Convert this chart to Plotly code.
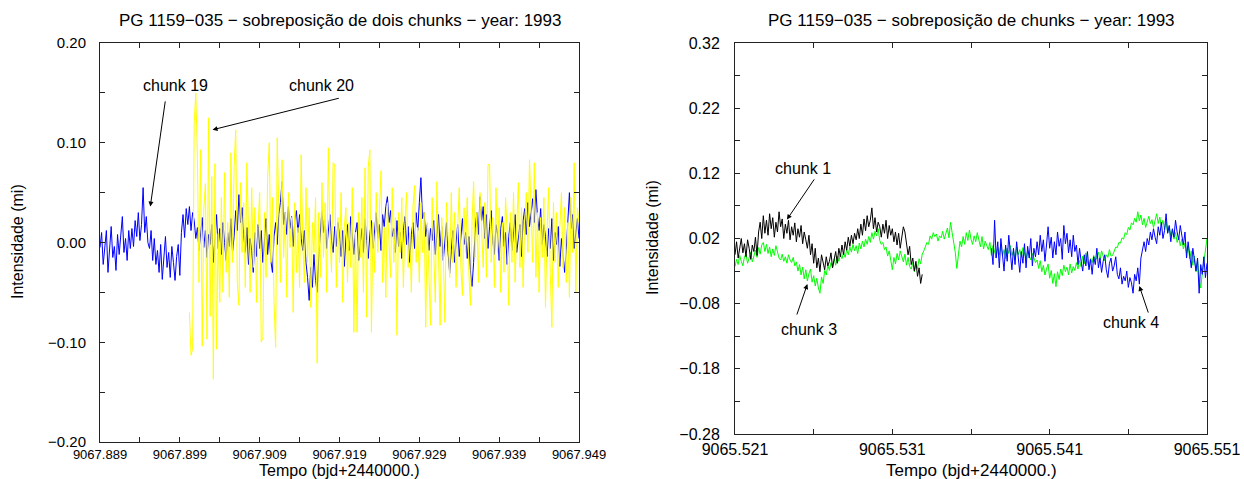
import plotly.graph_objects as go

# ---------------- data ----------------
# intensities are given in units of 0.001 mi (milli-mi), sampled at a fixed cadence
FONT = "Liberation Sans, Arial, Helvetica, sans-serif"

# Left panel (PG 1159-035, 1993) - chunk 19 and chunk 20
left_cadence = 0.0002
chunk19_t0 = 9067.889
chunk20_t0 = 9067.9002
chunk19_mmi = [
    -5, 10, -22, -8, 12, -30, -2, 16, -15, -4, -28, 8,
    -12, 6, 26, -10, 4, -18, 12, -6,
    14, -4, 22, 6, 30, 2, 18, 55, 10, 26, 0,
    -6, 12, -18, 4, -22, -8, -30, -2, -37, -12, 6, -25, -10, -35, -4, -20, -38, -14, -2, -33,
    10, 28, 5, 34, 18, 36, 12, 30,
    22, 4, 15, -8, 10, 25, -5, 12, -15, 8,
    -2, 18, -20, 5, 28, -6, 14, -12, 20, 0,
    -18, 10, -4, 24, -10, 6, 32, 12, 48, 20,
    35, 8, -10, 15, -22, 4, -8, -30, 10, -14,
    18, -6, 12, -20, 2, 24, -12, 8, -18, -30,
    6, 20, -2, 28, 40, 61, 18, 30, 8, 36,
    14, 26, -4, 22, 32, 10, 28, 4, -8, 12,
    -20, -35, -58, -25, -45, -12, -38, -50, -15, 5,
    33, 10, 22, -6, 14, 28, 2, -10, 16, -4,
    20, 8, -14, 12, -24, 4, 18, -8, 26, 6,
    -12, 10, 20, -18, -2, 14, -10, 24, 2, -16,
    8, 22, -6, 12, 30, 4, 18, -8, 28, 16,
    36, 46, 20, 32, 6, 14, -10, 22, -4, 10,
    -16, 12, 26, -2, 16, -20, 8, 20, -6, 30,
    12, 40, 65, 24, 30, 6, 18, -8, 14, 2,
    22, -12, 10, 28, -4, 16, -18, 6, 20, -10,
    -31, -8, 12, -20, 4, 18, -14, 8, 24, -2,
    10, -16, 6, -28, -44, -20, 14, 30, 8, 46,
    22, 36, 4, 28, -6, 16, 32, 2, -12, 18,
    8, -18, 14, 26, -4, 10, -22, 6, 20, -8,
    12, 28, -10, 4, 18, -14, 22, 34, 8, 40,
    16, 30, 44, 20, 53, 26, 12, 34, -2, 18,
    6, -14, 14, -6, 24, -18, 10, -2, 16, -24,
    4, -12, -30, -8, 20, 50, 14, 28, -6, 12,
    24, 4,
]
chunk20_mmi = [
    -70, -113, -107, 120, 150, 86, -40, 93, -104, 33,
    59, -97, 125, -74, 66, -137, 79, -107, 9, -60,
    45, -50, 70, -30, 20, -55, 90, -20, 76, 113,
    -40, -63, 60, -10, 40, -45, 80, 5, -50, 55,
    -25, 35, -60, 15, 50, -100, -95, 30, -35, 65,
    100, -20, 45, -60, -105, 105, 10, -40, 83, -15,
    30, -55, 50, -5, 25, -70, 40, -30, 15, -45,
    88, 0, -40, 55, -20, 35, -65, 20, -10, 45,
    -121, 30, -35, 60, -15, 40, -50, 95, 10, -30,
    80, 78, -45, 25, -20, 50, -60, 15, 35, -40,
    20, -25, 55, -90, 10, -90, 30, -15, 45, -50,
    75, -75, 75, 93, -90, 20, -30, 50, -10, 35,
    72, -40, 15, -55, 40, 0, -35, 55, -20, 25,
    -93, 30, -10, 45, -45, 20, 50, -25, 10, -50,
    35, 57, -20, 15, -40, 40, -10, 30, -85, 20,
    -30, -83, 45, -15, -60, 61, -20, -83, 25, -10,
    -80, 40, 5, -35, 50, -20, 30, -45, 15, 55,
    -25, -53, 35, -10, 45, -30, -63, 20, 61, -15,
    30, -40, 50, 10, -25, 40, -35, 78, 78, -20,
    25, -45, 55, -10, 35, -50, 20, -30, 45, 10,
    -63, 30, -20, 50, -40, 15, 60, -25, 35, -45,
    20, 50, -10, 83, 40, -20, 80, -35, 30, -50,
    25, -15, 45, -65, 10, 55, -30, -85, 40, -20,
    30, -45, 15, 50, -25, 35, -40, 20, -55, 45,
    -10, 80, -50, 35, 20,
]

# Right panel - chunk 1, chunk 3 and chunk 4
right_cadence = 0.0001
chunk1_t0 = 9065.521
chunk3_t0 = 9065.521
chunk4_t0 = 9065.5373
chunk1_mmi = [
    -5, 15, -10, 8, 20, -2, 12, -8, 18, 5,
    -12, 10, 0, 22, -6, 30, 45, 20, 55, 28,
    48, 25, 58, 35, 52, 22, 45, 30, 61, 38,
    50, 20, 42, 28, 48, 18, 38, 25, 44, 15,
    35, 22, 40, 12, 30, 18, 5, 25, -5, 12,
    -18, 5, -25, -10, -31, -5, -20, -28, -8, -22,
    -15, -2, -25, -10, 0, -18, 5, -8, 10, -5,
    15, 2, 22, 8, 25, 12, 28, 18, 35, 20,
    42, 25, 50, 32, 55, 38, 48, 67, 35, 52,
    30, 45, 38, 22, 42, 28, 48, 20, 40, 25,
    35, 15, 30, 10, 28, 5, 22, 38, 30, 12,
    -5, 8, -20, -10, -30, -15, -38, -25, -49, -35,
]
chunk3_mmi = [
    -23, -12, -20, -6, -15, -22, -8, -4, -18, -10,
    -1, -16, -6, 2, -9, 6, -4, 10, 14, 0,
    11, -3, 7, -8, 4, -6, 9, -1, -10, -13,
    -4, -15, -8, -18, -5, -13, -17, -9, -22, -16,
    -30, -20, -36, -24, -42, -28, -45, -34, -27, -47,
    -37, -53, -41, -56, -64, -39, -49, -29, -36, -21,
    -29, -17, -25, -11, -21, -7, -15, -4, -11, -1,
    -9, 3, -5, 7, -1, 11, 1, 9, -3, 13,
    4, 16, 7, 19, 11, 23, 14, 29, 19, 31,
    24, 35, 17, 11, 14, 3, 7, -7, 1, -13,
    -28, -9, -19, -3, -13, 1, -9, -16, -4, -21,
    -9, -23, -27, -17, -31, -19, -26, -11, -19, -4,
    1, 9, 14, 11, 24, 19, 29, 23, 27, 16,
    24, 21, 31, 19, 27, 36, 21, 45, 29, 13,
    -1, -26, -4, 16, 7, 23, 11, 29, 17, 33,
    19, 11, 24, 15, 29, 19, 7, 23, 4, 16,
    9, 3, 14, -6, 9, -1, -9, 6, -5, 11,
    -7, 3, -11, 5, -3, 9, -6, 1, -13, 7,
    -5, 3, -9, 6, -3, -11, 1, -7, -13, -3,
    -9, -17, -13, -26, -14, -31, -21, -36, -27, -19,
    -41, -29, -49, -34, -54, -31, -43, -27, -37, -21,
    -31, -24, -36, -19, -33, -23, -29, -17, -27, -14,
    -23, -7, -19, -2, -16, -24, -11, -17, -6, -13,
    -9, -1, -13, 1, -7, -14, -5, -9, 3, -7,
    -6, 1, 7, 6, 14, 13, 21, 19, 29, 26,
    37, 33, 44, 41, 51, 45, 61, 47, 56, 41,
    51, 37, 47, 54, 43, 49, 37, 47, 58, 43,
    53, 39, 48, 34, 46, 29, 39, 24, 33, 19,
    29, 14, 23, 9, 19, 4, 13, -3, 9, -11,
    1, -21, -7, -31, -14, -41, -56, -34, -13, 6,
    20,
]
chunk4_mmi = [
    5, -20, 48, -10, 15, -25, 20, -5, -30, 10,
    -15, 25, -8, -28, 5, -20, 15, -12, -32, 0,
    -18, 12, -25, 8, -10, 20, -22, 5, -8, 15,
    -5, 25, 0, 18, -15, 10, 38, 5, 22, -10,
    15, -5, 30, 8, 20, -12, 40, 12, 28, -2,
    18, -8, 25, 0, 10, -20, 5, -15, -30, -5,
    -22, 0, -28, -12, -35, -8, -20, 5, -25, -10,
    -32, -15, -5, -28, -40, -18, -10, -30, -22, -8,
    -35, -42, -25, -50, -38, -45, -30, -55, -40, -48,
    -64, -35, -45, -25, -50, -10, 5, 15, 0, 20,
    10, 30, 18, 35, 22, 12, 38, 25, 45, 20,
    32, 58, 28, 40, 15, 35, 22, 48, 30, 18,
    40, 25, 10, 30, -10, 15, -5, -25, 5, -15,
    -30, -10, -64, -20, -35, -8, -40, -18,
]

# axis tick labels
left_xticks = [9067.889, 9067.899, 9067.909, 9067.919, 9067.929, 9067.939, 9067.949]
left_xminor = [9067.894, 9067.904, 9067.914, 9067.924, 9067.934, 9067.944]
left_yticks = [-0.20, -0.10, 0.00, 0.10, 0.20]
left_yminor = [-0.15, -0.05, 0.05, 0.15]
right_xticks = [9065.521, 9065.531, 9065.541, 9065.551]
right_xminor = [9065.526, 9065.536, 9065.546]
right_yticks = [-0.28, -0.18, -0.08, 0.02, 0.12, 0.22, 0.32]
right_yminor = [-0.23, -0.13, -0.03, 0.07, 0.17, 0.27]


def times(t0, dt, n):
    return [t0 + dt * i for i in range(n)]


def to_mi(vals):
    return [v / 1000.0 for v in vals]


def lab(v, nd):
    s = f"{abs(v):.{nd}f}"
    return ("\u2212" + s) if v < -1e-12 else s


fig = go.Figure()

fig.add_trace(go.Scatter(x=times(chunk19_t0, left_cadence, len(chunk19_mmi)), y=to_mi(chunk19_mmi),
                         mode="lines", line=dict(color="#0000ff", width=1), xaxis="x", yaxis="y"))
fig.add_trace(go.Scatter(x=times(chunk20_t0, left_cadence, len(chunk20_mmi)), y=to_mi(chunk20_mmi),
                         mode="lines", line=dict(color="#ffff00", width=1), xaxis="x", yaxis="y"))
fig.add_trace(go.Scatter(x=times(chunk3_t0, right_cadence, len(chunk3_mmi)), y=to_mi(chunk3_mmi),
                         mode="lines", line=dict(color="#00ff00", width=1), xaxis="x2", yaxis="y2"))
fig.add_trace(go.Scatter(x=times(chunk1_t0, right_cadence, len(chunk1_mmi)), y=to_mi(chunk1_mmi),
                         mode="lines", line=dict(color="#000000", width=1), xaxis="x2", yaxis="y2"))
fig.add_trace(go.Scatter(x=times(chunk4_t0, right_cadence, len(chunk4_mmi)), y=to_mi(chunk4_mmi),
                         mode="lines", line=dict(color="#0000ff", width=1), xaxis="x2", yaxis="y2"))


def axis(domain, rng, tv, nd, minor_vals, fsize, anchor, standoff):
    return dict(domain=domain, range=rng, anchor=anchor, automargin=False,
                tickmode="array", tickvals=tv, ticktext=[lab(v, nd) for v in tv],
                showline=True, linecolor="#222", linewidth=1, mirror="allticks",
                ticks="inside", ticklen=5, tickcolor="#222", tickwidth=1,
                showgrid=False, zeroline=False, ticklabelstandoff=standoff,
                tickfont=dict(family=FONT, size=fsize, color="black"),
                minor=dict(tickmode="array", tickvals=minor_vals, ticks="inside",
                           ticklen=5, tickcolor="#222", tickwidth=1, showgrid=False))


W, H = 1244, 479
L_x = [100 / W, 579 / W]
R_x = [735 / W, 1207 / W]
L_y = [1 - 442 / H, 1 - 43 / H]
R_y = [1 - 434 / H, 1 - 43 / H]

fig.update_layout(
    width=W, height=H, margin=dict(l=0, r=0, t=0, b=0, autoexpand=False),
    paper_bgcolor="white", plot_bgcolor="white", showlegend=False,
    xaxis=axis(L_x, [9067.889, 9067.949], left_xticks, 3, left_xminor, 13, "y", 0),
    yaxis=axis(L_y, [-0.20, 0.20], left_yticks, 2, left_yminor, 15, "x", 10),
    xaxis2=axis(R_x, [9065.521, 9065.551], right_xticks, 3, right_xminor, 16, "y2", 1),
    yaxis2=axis(R_y, [-0.28, 0.32], right_yticks, 2, right_yminor, 16, "x2", 11),
)

txt = dict(family=FONT, size=16, color="black")
big = dict(family=FONT, size=17, color="black")
C = dict(xanchor="center", yanchor="middle", showarrow=False, font=txt)
CB = dict(xanchor="center", yanchor="middle", showarrow=False, font=big)
ann = []
# titles and axis titles
ann.append(dict(text="PG 1159\u2212035 \u2212 sobreposição de dois chunks \u2212 year: 1993",
                xref="paper", yref="paper", x=340 / W, y=1 - 21 / H, **CB))
ann.append(dict(text="PG 1159\u2212035 \u2212 sobreposição de chunks \u2212 year: 1993",
                xref="paper", yref="paper", x=971 / W, y=1 - 20 / H, **CB))
ann.append(dict(text="Tempo (bjd+2440000.)", xref="paper", yref="paper", x=339 / W, y=1 - 470.5 / H, **C))
ann.append(dict(text="Tempo (bjd+2440000.)", xref="paper", yref="paper", x=971 / W, y=1 - 470 / H, **CB))
ann.append(dict(text="Intensidade (mi)", xref="paper", yref="paper", x=18 / W, y=1 - 242 / H,
                textangle=-90, **C))
ann.append(dict(text="Intensidade (mi)", xref="paper", yref="paper", x=652 / W, y=1 - 238 / H,
                textangle=-90, **C))

# chunk labels (data coordinates) and arrows
labels = [
    ("chunk 19", "x", "y", 9067.8985, 0.157, (9067.8972, 0.143), (9067.8953, 0.036)),
    ("chunk 20", "x", "y", 9067.9167, 0.157, (9067.9191, 0.145), (9067.9031, 0.113)),
    ("chunk 1", "x2", "y2", 9065.5253, 0.128, (9065.5261, 0.113), (9065.5243, 0.049)),
    ("chunk 3", "x2", "y2", 9065.5257, -0.119, (9065.5249, -0.099), (9065.5256, -0.050)),
    ("chunk 4", "x2", "y2", 9065.5462, -0.109, (9065.5473, -0.096), (9065.5467, -0.053)),
]
for text, xr, yr, tx, ty, tail, head in labels:
    ann.append(dict(text=text, xref=xr, yref=yr, x=tx, y=ty, **C))
    ann.append(dict(text="", xref=xr, yref=yr, x=head[0], y=head[1], axref=xr, ayref=yr,
                    ax=tail[0], ay=tail[1], showarrow=True, arrowhead=2, arrowsize=1,
                    arrowwidth=1, arrowcolor="black", standoff=0))
fig.update_layout(annotations=ann)

fig.write_html("out.html")
